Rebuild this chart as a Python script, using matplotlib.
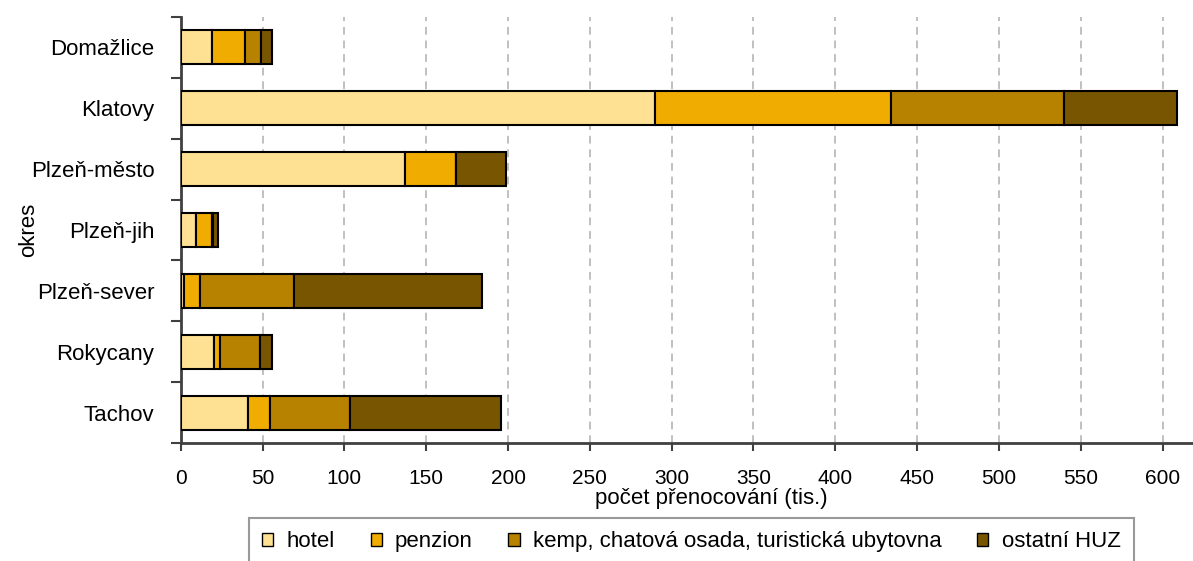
import numpy as np
import matplotlib
matplotlib.use("Agg")
import matplotlib.pyplot as plt

plt.rcParams['font.family'] = ['Liberation Sans', 'DejaVu Sans']

# data (tis. přenocování)
okresy = ["Domažlice", "Klatovy", "Plzeň-město", "Plzeň-jih",
          "Plzeň-sever", "Rokycany", "Tachov"]
hotel = [19, 290, 137, 9.5, 2, 20.5, 41]
penzion = [20, 144, 31, 9.5, 10, 3.5, 13.5]
kemp = [10, 106, 0, 0.5, 57, 24.5, 49]
ostatni = [7, 69, 31, 3.5, 115, 7.5, 92]

serie = ["hotel", "penzion", "kemp, chatová osada, turistická ubytovna", "ostatní HUZ"]
barvy = ["#FFE194", "#F0AC00", "#B78200", "#785500"]

fig = plt.figure(figsize=(11.93, 5.61), dpi=100)
ax = fig.add_axes([0.1515, 0.2103, 0.8485, 0.7594])

y = np.arange(len(okresy))
left = np.zeros(len(okresy))
for vals, lab, col in zip([hotel, penzion, kemp, ostatni], serie, barvy):
    vals = np.array(vals, dtype=float)
    ax.barh(y, vals, left=left, height=0.56, color=col, edgecolor="black",
            linewidth=1.5, label=lab, zorder=3)
    left += vals

ax.set_ylim(len(okresy) - 0.5, -0.5)
ax.set_xlim(0, 618.6)

# tick marks on category boundaries, labels in the middle
ax.set_yticks(np.arange(-0.5, len(okresy)), labels=[])
ax.set_yticks(y, labels=okresy, minor=True)
ax.tick_params(axis="y", which="major", length=7, width=1.5, color="#404040")
ax.tick_params(axis="y", which="minor", length=0, pad=19, labelsize=16)

ax.set_xticks(np.arange(0, 601, 50))
ax.tick_params(axis="x", length=6, width=1.5, color="#404040", labelsize=15, pad=13)

ax.grid(axis="x", linestyle=(0, (4, 3)), color="#c0c0c0", linewidth=1.4, zorder=0)
gl = ax.get_xgridlines()
gl[0].set_visible(False)

for s in ["top", "right"]:
    ax.spines[s].set_visible(False)
for s in ["left", "bottom"]:
    ax.spines[s].set_color("#404040")
    ax.spines[s].set_linewidth(2)

ax.set_xlabel("počet přenocování (tis.)", fontsize=16)
ax.xaxis.set_label_coords(0.524, -0.105)
ax.set_ylabel("okres", fontsize=16)
ax.yaxis.set_label_coords(-0.14, 0.5)

leg = fig.legend(loc="upper center", bbox_to_anchor=(0.5796, 0.0766), ncol=4,
                 frameon=True, fancybox=False, edgecolor="#808080", fontsize=16,
                 handlelength=0.5, handleheight=0.5, handletextpad=0.6,
                 columnspacing=1.6, borderpad=0.6, borderaxespad=0)
leg.get_frame().set_linewidth(1.5)
for h in leg.legend_handles:
    h.set_linewidth(1)

fig.savefig("out.png", dpi=100)
